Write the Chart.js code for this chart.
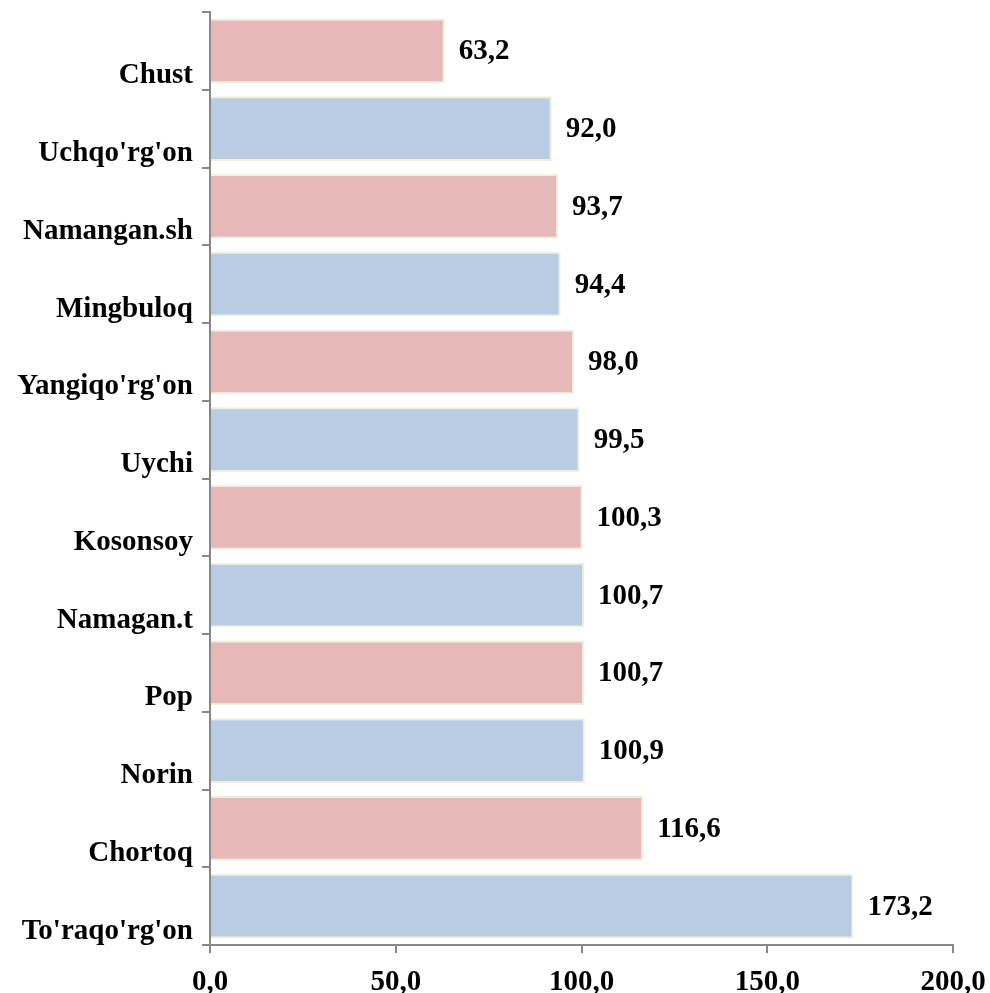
<!DOCTYPE html>
<html><head><meta charset="utf-8">
<script src="https://cdn.jsdelivr.net/npm/chart.js@4"></script>
<style>html,body{margin:0;padding:0;background:#fff}#wrap{width:990px;height:993px}</style>
</head><body><div id="wrap"><canvas id="c" width="990" height="993"></canvas></div>
<script>
const categories = ["Chust","Uchqo'rg'on","Namangan.sh","Mingbuloq","Yangiqo'rg'on","Uychi","Kosonsoy","Namagan.t","Pop","Norin","Chortoq","To'raqo'rg'on"];
const values = [63.2, 92.0, 93.7, 94.4, 98.0, 99.5, 100.3, 100.7, 100.7, 100.9, 116.6, 173.2];
const xTicks = [0, 50, 100, 150, 200];
const pink = '#E6B8B7', blue = '#B8CCE4';
const fmt = v => v.toFixed(1).replace('.', ',');
const FONT = "'Liberation Serif','Times New Roman',serif";
const FS = 29;

const valueLabels = {
  id: 'valueLabels',
  afterDatasetsDraw(chart) {
    const ctx = chart.ctx;
    const meta = chart.getDatasetMeta(0);
    ctx.save();
    ctx.font = "bold " + FS + "px " + FONT;
    ctx.fillStyle = '#000';
    ctx.textAlign = 'left';
    ctx.textBaseline = 'middle';
    meta.data.forEach((bar, i) => {
      ctx.fillText(fmt(values[i]), bar.x + 14, bar.y + 1);
    });
    ctx.restore();
  }
};

new Chart(document.getElementById('c'), {
  type: 'bar',
  data: {
    labels: categories,
    datasets: [{
      data: values,
      backgroundColor: values.map((v, i) => i % 2 === 0 ? pink : blue),
      borderColor: '#EEF0DC',
      borderWidth: 2,
      categoryPercentage: 0.83,
      barPercentage: 1.0
    }]
  },
  options: {
    indexAxis: 'y',
    responsive: false,
    devicePixelRatio: 1,
    animation: false,
    layout: { padding: { left: 0, right: 37, top: 12, bottom: 0 } },
    plugins: { legend: { display: false }, tooltip: { enabled: false } },
    scales: {
      x: {
        min: 0, max: 200,
        afterBuildTicks: s => { s.ticks = xTicks.map(v => ({ value: v })); },
        afterFit: s => { s.height = 48; s.paddingLeft = 0; s.paddingRight = 0; },
        grid: { drawOnChartArea: false, tickLength: 8, color: '#888', lineWidth: 2 },
        border: { color: '#888', width: 2 },
        ticks: { color: '#000', font: { family: FONT, size: FS, weight: 'bold' }, padding: 12, callback: v => fmt(v), maxRotation: 0 }
      },
      y: {
        afterFit: s => { s.width = 210; s.paddingTop = 0; s.paddingBottom = 0; },
        grid: { offset: true, drawOnChartArea: false, tickLength: 8, color: '#888', lineWidth: 2 },
        border: { color: '#888', width: 2 },
        ticks: { color: '#000', font: { family: FONT, size: FS, weight: 'bold' }, padding: 9, labelOffset: 25, autoSkip: false }
      }
    }
  },
  plugins: [valueLabels]
});
</script></body></html>
